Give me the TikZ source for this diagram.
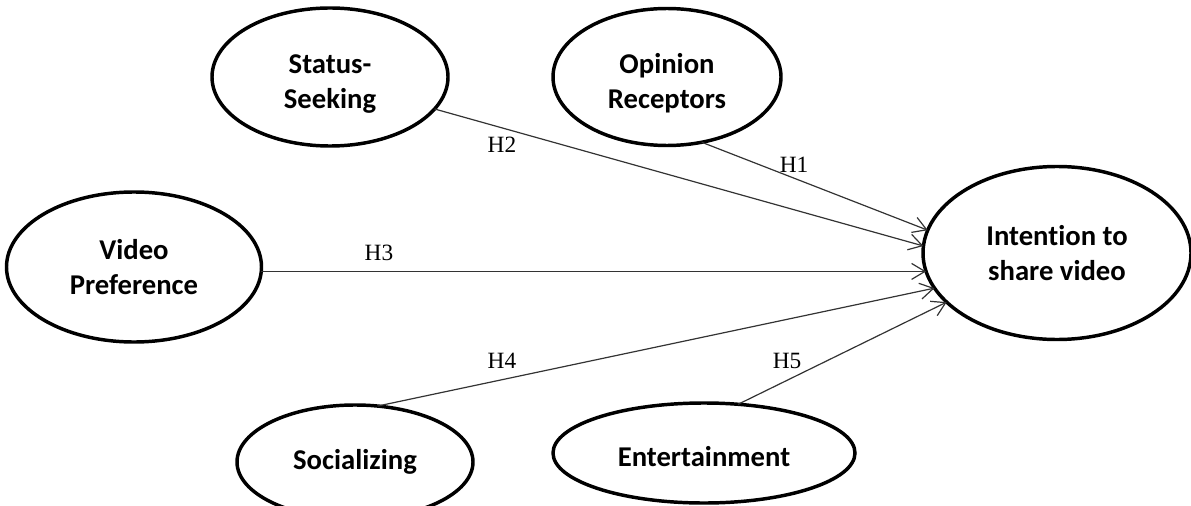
\documentclass[tikz,border=0pt]{standalone}
\usepackage{fontspec}
\setmainfont{Liberation Serif}
\newfontfamily\labelfont[Ligatures=NoCommon]{Carlito}
\usetikzlibrary{shapes.geometric,arrows.meta}
\newcommand{\lowstrut}[1]{\rule{0pt}{#1}}
\tikzset{
  construct/.style={ellipse,draw=black,line width=2.6pt,inner sep=0pt,outer sep=0pt,
    align=center,font=\labelfont\bfseries\fontsize{21.5pt}{26.25pt}\selectfont},
  path/.style={draw=black!80,line width=0.9pt,-{Straight Barb[length=10pt,width=12pt]}},
  hyp/.style={font=\fontsize{17.5pt}{20pt}\selectfont,inner sep=0pt}
}
\begin{document}
\begin{tikzpicture}[x=0.75pt,y=-0.75pt]
\useasboundingbox (0,0) rectangle (1191,506);
\clip (0,0) rectangle (1191,506);
\node[construct,minimum width=177pt,minimum height=103.5pt] (ss) at (330,77) {\lowstrut{24.5pt}Status-\\Seeking};
\node[construct,minimum width=171pt,minimum height=102.75pt] (or) at (667,77) {\lowstrut{24.5pt}Opinion\\Receptors};
\node[construct,minimum width=191.25pt,minimum height=112.5pt] (vp) at (134,267) {Video\\Preference};
\node[construct,minimum width=201pt,minimum height=129.75pt] (int) at (1057,253) {Intention to\\share video};
\node[construct,minimum width=177pt,minimum height=85.5pt] (so) at (355,462) {Socializing};
\node[construct,minimum width=226.5pt,minimum height=75pt] (en) at (704,453) {\lowstrut{20pt}Entertainment};

\draw[path] (or.-62.1) -- (int.170.7);
\draw[path] (ss.-17.1) -- (int.177);
\draw[path] (vp.-2.7) -- (vp.-2.7 -| int.188.4);
\draw[path] (so.68.9) -- (int.196.6);
\draw[path] (en.55.8) -- (int.204.1);

\node[hyp] (h1) at (794,165) {H1};
\node[hyp] (h2) at (502,145) {H2};
\node[hyp] (h3) at (379,253) {H3};
\node[hyp] (h4) at (502,361) {H4};
\node[hyp] (h5) at (787,361) {H5};
\end{tikzpicture}
\end{document}
